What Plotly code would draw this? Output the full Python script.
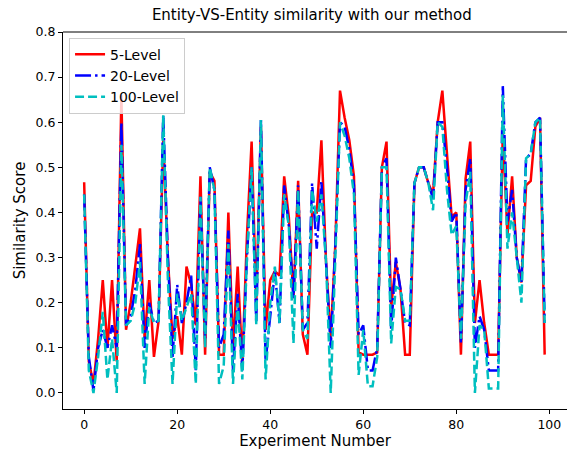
import plotly.graph_objects as go

# --- data ---
experiment = list(range(100))

level_5 = [0.467, 0.07, 0.02, 0.12, 0.25, 0.10, 0.25, 0.07, 0.66, 0.14,
           0.20, 0.28, 0.365, 0.12, 0.25, 0.08, 0.16, 0.56, 0.30, 0.12,
           0.17, 0.085, 0.28, 0.24, 0.15, 0.48, 0.085, 0.49, 0.47, 0.085,
           0.085, 0.40, 0.10, 0.28, 0.065, 0.35, 0.557, 0.20, 0.59, 0.14,
           0.25, 0.27, 0.26, 0.48, 0.39, 0.21, 0.47, 0.13, 0.085, 0.40,
           0.40, 0.56, 0.29, 0.12, 0.33, 0.67, 0.61, 0.56, 0.48, 0.09,
           0.085, 0.085, 0.085, 0.09, 0.50, 0.557, 0.19, 0.29, 0.23, 0.085,
           0.085, 0.465, 0.50, 0.50, 0.465, 0.44, 0.60, 0.67, 0.52, 0.39,
           0.40, 0.085, 0.475, 0.557, 0.155, 0.25, 0.155, 0.085, 0.085, 0.085,
           0.58, 0.35, 0.48, 0.30, 0.245, 0.46, 0.47, 0.59, 0.61, 0.085]

level_20 = [0.44, 0.08, 0.005, 0.10, 0.14, 0.10, 0.15, 0.10, 0.60, 0.15,
            0.17, 0.23, 0.33, 0.10, 0.20, 0.155, 0.16, 0.616, 0.30, 0.08,
            0.24, 0.155, 0.20, 0.26, 0.05, 0.435, 0.12, 0.50, 0.45, 0.10,
            0.13, 0.36, 0.05, 0.22, 0.05, 0.30, 0.50, 0.155, 0.605, 0.07,
            0.17, 0.27, 0.155, 0.46, 0.37, 0.21, 0.46, 0.14, 0.155, 0.465,
            0.32, 0.47, 0.29, 0.10, 0.33, 0.60, 0.59, 0.54, 0.46, 0.13,
            0.15, 0.05, 0.05, 0.10, 0.50, 0.52, 0.14, 0.30, 0.23, 0.155,
            0.15, 0.465, 0.50, 0.50, 0.465, 0.43, 0.60, 0.60, 0.50, 0.38,
            0.40, 0.11, 0.45, 0.52, 0.10, 0.17, 0.14, 0.05, 0.05, 0.05,
            0.68, 0.38, 0.45, 0.30, 0.245, 0.52, 0.53, 0.60, 0.61, 0.155]

level_100 = [0.44, 0.05, 0.0, 0.08, 0.18, 0.03, 0.12, 0.0, 0.55, 0.15,
             0.16, 0.20, 0.29, 0.02, 0.19, 0.155, 0.16, 0.616, 0.25, 0.02,
             0.22, 0.16, 0.19, 0.22, 0.02, 0.435, 0.10, 0.50, 0.45, 0.02,
             0.06, 0.33, 0.02, 0.20, 0.03, 0.30, 0.50, 0.15, 0.605, 0.03,
             0.20, 0.28, 0.155, 0.44, 0.37, 0.11, 0.45, 0.14, 0.12, 0.45,
             0.38, 0.44, 0.29, 0.0, 0.30, 0.60, 0.57, 0.52, 0.44, 0.04,
             0.14, 0.015, 0.015, 0.08, 0.50, 0.50, 0.11, 0.235, 0.23, 0.16,
             0.16, 0.465, 0.50, 0.50, 0.465, 0.405, 0.60, 0.59, 0.45, 0.35,
             0.37, 0.12, 0.42, 0.49, 0.0, 0.15, 0.14, 0.01, 0.01, 0.01,
             0.66, 0.32, 0.40, 0.30, 0.20, 0.52, 0.53, 0.60, 0.61, 0.155]

x_ticks = [0, 20, 40, 60, 80, 100]
y_ticks = [0.0, 0.1, 0.2, 0.3, 0.4, 0.5, 0.6, 0.7, 0.8]

FONT = "DejaVu Sans"

fig = go.Figure()
fig.add_trace(go.Scatter(x=experiment, y=level_5, mode="lines", name="5-Level",
                         line=dict(color="#ff0000", width=2.5)))
fig.add_trace(go.Scatter(x=experiment, y=level_20, mode="lines", name="20-Level",
                         line=dict(color="#0000ff", width=2.5, dash="16px,4px,2.5px,4px")))
fig.add_trace(go.Scatter(x=experiment, y=level_100, mode="lines", name="100-Level",
                         line=dict(color="#00bfbf", width=2.5, dash="9px,4px")))

fig.update_layout(
    width=567, height=451,
    margin=dict(l=63, r=0, t=32, b=42, autoexpand=False),
    paper_bgcolor="white", plot_bgcolor="white",
    font=dict(family=FONT, size=12.5, color="black"),
    title=dict(text="Entity-VS-Entity similarity with our method",
               x=0.55, xanchor="center", y=0.968, yanchor="middle",
               font=dict(size=15)),
    legend=dict(x=0.012, y=0.985, xanchor="left", yanchor="top",
                bgcolor="rgba(255,255,255,0.8)", bordercolor="#cccccc", borderwidth=1,
                font=dict(size=14), tracegroupgap=0, itemwidth=30),
    showlegend=True,
)

fig.update_xaxes(range=[-4.55, 103.8], tickvals=x_ticks, showgrid=False, zeroline=False,
                 showline=True, linecolor="black", linewidth=1,
                 ticks="outside", ticklen=4, tickcolor="black",
                 title=dict(text="Experiment Number", standoff=4))
fig.update_yaxes(range=[-0.0355, 0.8], tickvals=y_ticks, tickformat=".1f", showgrid=False,
                 zeroline=False, showline=True, linecolor="black", linewidth=1,
                 ticks="outside", ticklen=4, tickcolor="black",
                 title=dict(text="Similarity Score", standoff=6))

# top spine of the axes frame (right spine is cropped off in the reference)
fig.add_shape(type="line", xref="paper", yref="paper", x0=0, x1=1, y0=1, y1=1,
              line=dict(color="black", width=1), layer="above")

# drop the browser's default page margin so the chart sits at 0,0
fig.write_html("out.html", config={"displayModeBar": False},
               post_script="document.body.style.margin='0';")
